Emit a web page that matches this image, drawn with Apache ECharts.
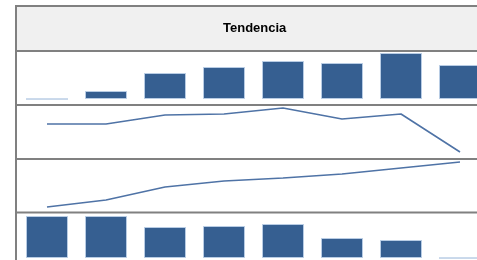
<!DOCTYPE html>
<html>
<head>
<meta charset="utf-8">
<script src="https://cdn.jsdelivr.net/npm/echarts@6/dist/echarts.min.js"></script>
<style>
html,body{margin:0;padding:0;overflow:hidden;background:#fff;}
#c{width:490px;height:260px;}
</style>
</head>
<body>
<div id="c"></div>
<script>
var categories = ['1','2','3','4','5','6','7','8'];
var title = 'Tendencia';
var bars1 = [0, 8, 26, 32, 38, 36, 46, 34];
var line2 = [34, 34, 43, 44, 50, 39, 44, 6];
var line3 = [5, 12, 25, 31, 34, 38, 44, 50];
var bars4 = [42, 42, 31, 32, 34, 20, 18, 0];

var chart = echarts.init(document.getElementById('c'));
var frame = '#808080';
var barStyle = {color:'#365f91', borderColor:'#b8cce4', borderWidth:1};
var lineStyle = {color:'#4f73a6', width:1.6};
function xa(i){return {type:'category', data:categories, gridIndex:i, boundaryGap:true, show:false};}
function ya(i,max){return {type:'value', gridIndex:i, min:0, max:max, show:false};}
var hline = function(y){return {type:'line', shape:{x1:16,y1:y,x2:490,y2:y}, style:{stroke:frame, lineWidth:2}, z:10};};
chart.setOption({
  animation:false,
  title:{text:title, left:223, top:22, padding:0,
    textStyle:{fontFamily:'Liberation Sans, Arial, sans-serif', fontSize:13, fontWeight:'bold', color:'#000'}},
  graphic:[
    {type:'rect', shape:{x:16,y:6,width:480,height:45}, style:{fill:'#f0f0f0', stroke:null}, z:-10},
    hline(6), hline(51), hline(105), hline(159), hline(212.5),
    {type:'line', shape:{x1:16,y1:5,x2:16,y2:260}, style:{stroke:frame, lineWidth:2}, z:10}
  ],
  grid:[
    {left:17.5, right:0.5, top:50, height:49},
    {left:17.5, right:0.5, top:106, height:52},
    {left:17.5, right:0.5, top:160, height:52},
    {left:17.5, right:0.5, top:214, height:44}
  ],
  xAxis:[xa(0),xa(1),xa(2),xa(3)],
  yAxis:[ya(0,49),ya(1,52),ya(2,52),ya(3,44)],
  series:[
    {type:'bar', xAxisIndex:0, yAxisIndex:0, data:bars1, barWidth:42, itemStyle:barStyle},
    {type:'line', xAxisIndex:1, yAxisIndex:1, data:line2, showSymbol:false, symbol:'none', lineStyle:lineStyle},
    {type:'line', xAxisIndex:2, yAxisIndex:2, data:line3, showSymbol:false, symbol:'none', lineStyle:lineStyle},
    {type:'bar', xAxisIndex:3, yAxisIndex:3, data:bars4, barWidth:42, itemStyle:barStyle}
  ]
});
</script>
</body>
</html>
